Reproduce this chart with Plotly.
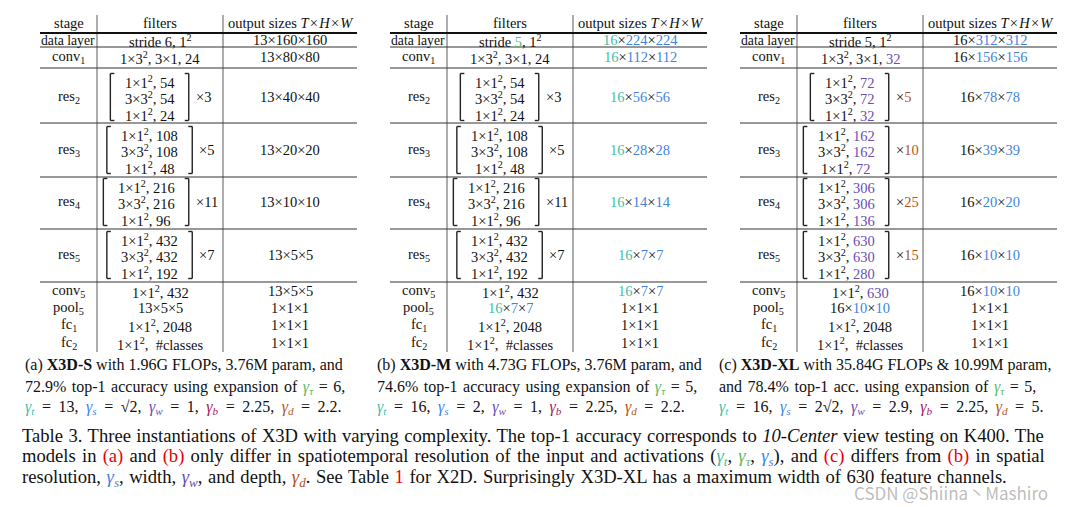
import plotly.graph_objects as go

stage_names = ["data layer", "conv<sub>1</sub>", "res<sub>2</sub>", "res<sub>3</sub>", "res<sub>4</sub>",
               "res<sub>5</sub>", "conv<sub>5</sub>", "pool<sub>5</sub>", "fc<sub>1</sub>", "fc<sub>2</sub>"]

s_stride, m_stride, xl_stride = 6, 5, 5
s_stem, m_stem, xl_stem = 24, 24, 32
s_inner = [54, 108, 216, 432]
m_inner = [54, 108, 216, 432]
xl_inner = [72, 162, 306, 630]
s_outc = [24, 48, 96, 192]
m_outc = [24, 48, 96, 192]
xl_outc = [32, 72, 136, 280]
s_repeat = [3, 5, 11, 7]
m_repeat = [3, 5, 11, 7]
xl_repeat = [5, 10, 25, 15]
s_T, m_T, xl_T = 13, 16, 16
s_HW = [160, 80, 40, 20, 10, 5]
m_HW = [224, 112, 56, 28, 14, 7]
xl_HW = [312, 156, 78, 39, 20, 10]
s_conv5, m_conv5, xl_conv5 = 432, 432, 630
fc1_width = 2048

GREEN = "#5fba62"
TEAL = "#3dbfa6"
BLUE = "#3f84e0"
PURPLE = "#6a4db3"
MAGENTA = "#a3205f"
BROWN = "#b5541c"
RED = "#e8000b"
FONT = "Liberation Serif"

fig = go.Figure()
ann = []
shp = []


def col(v, c):
    return f"<span style='color:{c}'>{v}</span>" if c else str(v)


def g(sub, c):
    return f"<span style='color:{c}'><i>γ<sub>{sub}</sub></i></span>"


def text(x, y, t, size=14.5, anchor="center"):
    ann.append(dict(x=x, y=y, text=t, xref="x", yref="y", showarrow=False, xanchor=anchor,
                    yanchor="middle", font=dict(family=FONT, size=size, color="#111")))


def line(x0, y0, x1, y1, w=1.0, c="#222"):
    shp.append(dict(type="line", x0=x0, y0=y0, x1=x1, y1=y1, xref="x", yref="y",
                    line=dict(color=c, width=w)))


row_y = [40, 57, 97, 150, 202, 255, 291, 308, 325, 343]
sep_y = [47, 68, 123, 177, 229, 282]
hs = "\u200a"


def table(x0, stride, stem, inner, outc, rep, T, HW, conv5,
          c_stride=None, c_T=None, c_HW=None, c_w=None, c_rep=None):
    xv1, xv2, x1 = x0 + 57, x0 + 183, x0 + 317
    cs, cf, co = (x0 + xv1) / 2, (xv1 + xv2) / 2, (xv2 + x1) / 2
    line(xv1, 15, xv1, 352, 1.2, "#777")
    line(xv2, 15, xv2, 352, 1.2, "#777")
    line(x0, 33, x1, 33, 2.2, "#111")
    for y in sep_y:
        line(x0, y, x1, y, 1.0, "#333")
    text(cs, 23, "stage")
    text(cf, 23, "filters")
    text(co + 1, 23, f"output sizes <i>T</i>{hs}×{hs}<i>H</i>{hs}×{hs}<i>W</i>")

    def size(t, hw):
        return f"{col(t, c_T)}×{col(hw, c_HW)}×{col(hw, c_HW)}"

    for i, nm in enumerate(stage_names):
        text(cs - (0.5 if i == 0 else 0), row_y[i], nm, size=13.7 if i == 0 else 14.5)
    text(cf, row_y[0] + 1, f"stride {col(stride, c_stride)}, 1<sup>2</sup>")
    text(cf, row_y[1] + 1, f"1×3<sup>2</sup>, 3×1, {col(stem, c_w)}")
    text(co, row_y[0], size(T, HW[0]))
    text(co, row_y[1], size(T, HW[1]))
    for k in range(4):
        y = row_y[2 + k]
        bw = 33.4 + 7 * len(str(inner[k])) + 31
        xw = 7.9 + 7 * len(str(rep[k]))
        left = cf - (bw + 6 + xw) / 2
        right = left + bw
        for xb, d in ((left, 4), (right, -4)):
            line(xb, y - 23.5, xb, y + 23.5, 1.4, "#222")
            line(xb, y - 23.5, xb + d, y - 23.5, 1.4, "#222")
            line(xb, y + 23.5, xb + d, y + 23.5, 1.4, "#222")
        bc = (left + right) / 2
        text(bc, y - 15.5, f"1×1<sup>2</sup>, {col(inner[k], c_w)}")
        text(bc, y + 1, f"3×3<sup>2</sup>, {col(inner[k], c_w)}")
        text(bc, y + 17.5, f"1×1<sup>2</sup>, {col(outc[k], c_w)}")
        text(right + 5, y, f"×{col(rep[k], c_rep)}", anchor="left")
        text(co, y, size(T, HW[2 + k]))
    text(cf, row_y[6] + 1, f"1×1<sup>2</sup>, {col(conv5, c_w)}")
    text(co, row_y[6], size(T, HW[5]))
    text(cf, row_y[7], size(T, HW[5]))
    text(cf, row_y[8] + 1, f"1×1<sup>2</sup>, {fc1_width}")
    text(cf, row_y[9] + 1, "1×1<sup>2</sup>,  #classes")
    for r in (7, 8, 9):
        text(co, row_y[r], "1×1×1")


table(40, s_stride, s_stem, s_inner, s_outc, s_repeat, s_T, s_HW, s_conv5)
table(390, m_stride, m_stem, m_inner, m_outc, m_repeat, m_T, m_HW, m_conv5,
      c_stride=GREEN, c_T=TEAL, c_HW=BLUE)
table(740, xl_stride, xl_stem, xl_inner, xl_outc, xl_repeat, xl_T, xl_HW, xl_conv5,
      c_HW=BLUE, c_w=PURPLE, c_rep=BROWN)


def ws(t, px):
    # stretch word gaps a little so lines fill the column like the justified original
    return f"<span style='word-spacing:{px}px'>{t}</span>" if px else t


# ---- sub-captions ----
sub_x = [23, 375, 717]
sub_y = [365, 387, 407]
subcaps = [
    ["(a) <b>X3D-S</b> with 1.96G FLOPs, 3.76M param, and",
     f"72.9% top-1 accuracy using expansion of {g('τ', GREEN)} = 6,",
     f"{g('t', TEAL)} = 13, {g('s', BLUE)} = √2, {g('w', PURPLE)} = 1, {g('b', MAGENTA)} = 2.25, {g('d', BROWN)} = 2.2."],
    ["(b) <b>X3D-M</b> with 4.73G FLOPs, 3.76M param, and",
     f"74.6% top-1 accuracy using expansion of {g('τ', GREEN)} = 5,",
     f"{g('t', TEAL)} = 16, {g('s', BLUE)} = 2, {g('w', PURPLE)} = 1, {g('b', MAGENTA)} = 2.25, {g('d', BROWN)} = 2.2."],
    ["(c) <b>X3D-XL</b> with 35.84G FLOPs &amp; 10.99M param,",
     f"and 78.4% top-1 acc. using expansion of {g('τ', GREEN)} = 5,",
     f"{g('t', TEAL)} = 16, {g('s', BLUE)} = 2√2, {g('w', PURPLE)} = 2.9, {g('b', MAGENTA)} = 2.25, {g('d', BROWN)} = 5."],
]
sub_ws = [0, 1.5, 3.5]
for sx, lines in zip(sub_x, subcaps):
    for sy, t, w in zip(sub_y, lines, sub_ws):
        text(sx, sy, ws(t, w), size=16, anchor="left")

# ---- table caption ----
cap = [
    "Table 3. Three instantiations of X3D with varying complexity. The top-1 accuracy corresponds to <i>10-Center</i> view testing on K400. The",
    f"models in {col('(a)', RED)} and {col('(b)', RED)} only differ in spatiotemporal resolution of the input and activations "
    f"({g('t', TEAL)}, {g('τ', GREEN)}, {g('s', BLUE)}), and {col('(c)', RED)} differs from {col('(b)', RED)} in spatial",
    f"resolution, {g('s', BLUE)}, width, {g('w', PURPLE)}, and depth, {g('d', BROWN)}. See Table {col('1', RED)} "
    "for X2D. Surprisingly X3D-XL has a maximum width of 630 feature channels.",
]
cap_ws = [0.8, 1.6, 0.9]
for cy, t, w in zip([435, 457, 478], cap, cap_ws):
    text(20, cy, ws(t, w), size=18.6, anchor="left")

ann.append(dict(x=1050, y=492, text="CSDN @Shiina丶Mashiro", xref="x", yref="y", showarrow=False,
                xanchor="right", yanchor="middle",
                font=dict(family="Noto Sans CJK SC", size=17, color="rgba(160,160,160,0.7)")))

fig.update_layout(
    width=1085, height=507, margin=dict(l=0, r=0, t=0, b=0),
    paper_bgcolor="white", plot_bgcolor="white",
    xaxis=dict(range=[0, 1085], visible=False, fixedrange=True),
    yaxis=dict(range=[507, 0], visible=False, fixedrange=True),
    annotations=ann, shapes=shp, showlegend=False,
)
fig.write_html("out.html", config={"displayModeBar": False},
               post_script="document.body.style.margin='0';document.body.style.overflow='hidden';")
